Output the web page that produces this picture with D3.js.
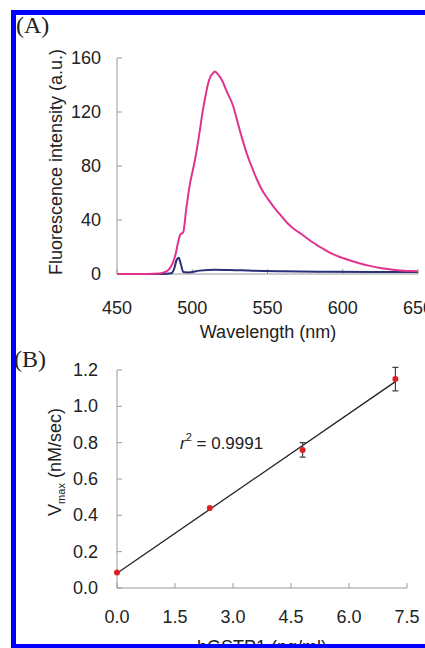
<!DOCTYPE html>
<html>
<head>
<meta charset="utf-8">
<script src="https://cdn.jsdelivr.net/npm/d3@7"></script>
<style>
  body { margin: 0; background: #fff; }
  text { font-family: "Liberation Sans", Arial, sans-serif; fill: #222; }
  text.panel { font-family: "Liberation Serif", "Times New Roman", serif; }
</style>
</head>
<body>
<svg id="chart"></svg>
<script>
// panel A: emission spectra
var wavelength = [450, 470, 478, 482, 485, 487, 489, 490.5, 492, 494, 496, 498.5, 501, 503, 505, 507, 509, 510.5, 512, 514, 515, 517, 520, 523, 527, 530, 533, 536, 540, 543, 546, 550, 555, 558, 563, 568, 572, 578, 585, 591, 598, 605, 611, 618, 625, 632, 638, 645, 650]
var probeOnly = [0, 0, 0.3, 1.5, 4, 8, 15, 23, 29, 31, 48, 67, 80, 92, 106, 121, 133, 141, 146, 149, 150, 148, 143, 135, 125, 113, 101, 90, 78, 70, 63, 56, 48.5, 44.5, 38, 33, 30, 25, 20, 16, 12.6, 10, 8, 6, 4.4, 3.4, 2.6, 2.2, 2]
var blueWl = [450, 480, 486, 488, 489.5, 491, 492.5, 494, 497, 505, 515, 525, 540, 560, 590, 620, 650]
var blueVal = [0, 0, 0.5, 4, 10, 12, 7, 1.5, 1.2, 2.5, 3.2, 3, 2.4, 2, 1.7, 1.5, 1.4]
var yTicksA = [0, 40, 80, 120, 160]
var xTicksA = [450, 500, 550, 600, 650]

// panel B: Vmax vs enzyme
var conc = [0, 2.4, 4.8, 7.2]
var vmax = [0.085, 0.44, 0.76, 1.15]
var vmaxErr = [0.005, 0.01, 0.04, 0.065]
var yTicksB = [0.0, 0.2, 0.4, 0.6, 0.8, 1.0, 1.2]
var xTicksB = [0, 1.5, 3.0, 4.5, 6.0, 7.5]

var W = 425, H = 648
var svg = d3.select("#chart").attr("width", W).attr("height", H)

var axisColor = "#9a9a9a"

// ---------- panel A ----------
var xA = d3.scaleLinear().domain([450, 650]).range([117, 418])
var yA = d3.scaleLinear().domain([0, 160]).range([274, 58])

var gA = svg.append("g")
gA.append("line").attr("x1", 117).attr("x2", 117).attr("y1", yA(160)).attr("y2", yA(0)).attr("stroke", axisColor)
gA.append("line").attr("x1", xA(450)).attr("x2", xA(650)).attr("y1", yA(0)).attr("y2", yA(0)).attr("stroke", axisColor)
gA.selectAll(".yt").data(yTicksA).enter().append("line")
    .attr("x1", 117).attr("x2", 122).attr("y1", d => yA(d)).attr("y2", d => yA(d)).attr("stroke", axisColor)
gA.selectAll(".xt").data(xTicksA).enter().append("line")
    .attr("x1", d => xA(d)).attr("x2", d => xA(d)).attr("y1", yA(0)).attr("y2", yA(0) - 5).attr("stroke", axisColor)
gA.selectAll(".yl").data(yTicksA).enter().append("text")
    .attr("x", 101).attr("y", d => yA(d) + 6).attr("text-anchor", "end").attr("font-size", 18).text(d => d)
gA.selectAll(".xl").data(xTicksA).enter().append("text")
    .attr("x", d => xA(d)).attr("y", 314).attr("text-anchor", "middle").attr("font-size", 18).text(d => d)

var lineA = d3.line().x(d => xA(d[0])).y(d => yA(d[1])).curve(d3.curveMonotoneX)
gA.append("path").datum(d3.zip(blueWl, blueVal)).attr("d", lineA)
    .attr("fill", "none").attr("stroke", "#2a2f78").attr("stroke-width", 2)
gA.append("path").datum(d3.zip(wavelength, probeOnly)).attr("d", lineA)
    .attr("fill", "none").attr("stroke", "#e0338f").attr("stroke-width", 2)

gA.append("text").attr("x", 268).attr("y", 338).attr("text-anchor", "middle").attr("font-size", 18).text("Wavelength (nm)")
gA.append("text").attr("transform", "translate(62,162) rotate(-90)").attr("text-anchor", "middle")
    .attr("font-size", 18).text("Fluorescence intensity (a.u.)")
svg.append("text").attr("class", "panel").attr("x", 16).attr("y", 33).attr("font-size", 24).text("(A)")

// ---------- panel B ----------
var xB = d3.scaleLinear().domain([0, 7.5]).range([117, 407])
var yB = d3.scaleLinear().domain([0, 1.2]).range([588, 370])

var gB = svg.append("g")
gB.append("line").attr("x1", 117).attr("x2", 117).attr("y1", yB(1.2)).attr("y2", yB(0)).attr("stroke", axisColor)
gB.append("line").attr("x1", xB(0)).attr("x2", xB(7.5)).attr("y1", yB(0)).attr("y2", yB(0)).attr("stroke", axisColor)
gB.selectAll(".yt").data(yTicksB).enter().append("line")
    .attr("x1", 117).attr("x2", 122).attr("y1", d => yB(d)).attr("y2", d => yB(d)).attr("stroke", axisColor)
gB.selectAll(".xt").data(xTicksB).enter().append("line")
    .attr("x1", d => xB(d)).attr("x2", d => xB(d)).attr("y1", yB(0)).attr("y2", yB(0) - 5).attr("stroke", axisColor)
gB.selectAll(".yl").data(yTicksB).enter().append("text")
    .attr("x", 98).attr("y", d => yB(d) + 6).attr("text-anchor", "end").attr("font-size", 18).text(d => d.toFixed(1))
gB.selectAll(".xl").data(xTicksB).enter().append("text")
    .attr("x", d => xB(d)).attr("y", 623).attr("text-anchor", "middle").attr("font-size", 18).text(d => d.toFixed(1))

// least squares fit line
var mx = d3.mean(conc), my = d3.mean(vmax)
var slope = d3.sum(conc, (c, i) => (c - mx) * (vmax[i] - my)) / d3.sum(conc, c => (c - mx) * (c - mx))
var icpt = my - slope * mx
gB.append("line").attr("x1", xB(0)).attr("y1", yB(icpt)).attr("x2", xB(7.2)).attr("y2", yB(icpt + slope * 7.2))
    .attr("stroke", "#222").attr("stroke-width", 1.3)

var pts = d3.zip(conc, vmax, vmaxErr)
gB.selectAll(".eb").data(pts.filter(d => d[2] > 0.02)).enter().append("path")
    .attr("d", d => {
        var x = xB(d[0]), y1 = yB(d[1] + d[2]), y2 = yB(d[1] - d[2])
        return `M${x - 3},${y1}H${x + 3}M${x},${y1}V${y2}M${x - 3},${y2}H${x + 3}`
    })
    .attr("fill", "none").attr("stroke", "#444").attr("stroke-width", 1.2)
gB.selectAll(".pt").data(pts).enter().append("circle")
    .attr("cx", d => xB(d[0])).attr("cy", d => yB(d[1])).attr("r", 3).attr("fill", "#e02020")

var r2 = gB.append("text").attr("x", 180).attr("y", 449).attr("font-size", 17)
r2.append("tspan").attr("font-style", "italic").text("r")
r2.append("tspan").attr("font-size", 11).attr("dy", -8).text("2")
r2.append("tspan").attr("dy", 8).text(" = 0.9991")

gB.append("text").attr("x", 262).attr("y", 653).attr("text-anchor", "middle").attr("font-size", 18).text("hGSTP1 (pg/ml)")
var yt = gB.append("text").attr("transform", "translate(61,462) rotate(-90)").attr("text-anchor", "middle").attr("font-size", 18)
yt.append("tspan").text("V")
yt.append("tspan").attr("font-size", 11).attr("dy", 4).text("max")
yt.append("tspan").attr("dy", -4).text(" (nM/sec)")
svg.append("text").attr("class", "panel").attr("x", 14).attr("y", 367).attr("font-size", 24).text("(B)")

// blue frame on top (clips the bottom title like the original)
svg.append("rect").attr("x", 11).attr("y", 10).attr("width", W).attr("height", 5).attr("fill", "#0000ff")
svg.append("rect").attr("x", 11).attr("y", 10).attr("width", 5).attr("height", H).attr("fill", "#0000ff")
svg.append("rect").attr("x", 11).attr("y", 644).attr("width", W).attr("height", 5).attr("fill", "#0000ff")
</script>
</body>
</html>
